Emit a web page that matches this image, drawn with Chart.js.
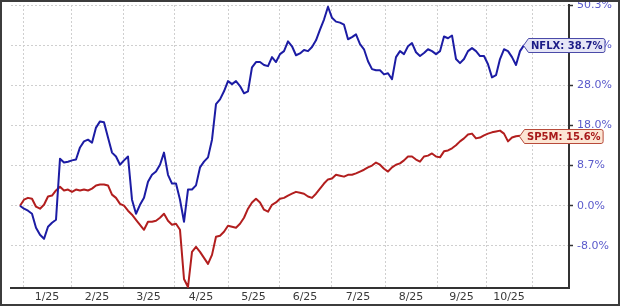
<!DOCTYPE html>
<html><head><meta charset="utf-8">
<script src="https://cdn.jsdelivr.net/npm/chart.js@4.4.0/dist/chart.umd.min.js"></script>
<style>html,body{margin:0;padding:0;background:#fff;}canvas{display:block;}</style>
</head><body>
<canvas id="c" width="620" height="306"></canvas>
<script>
// ---- data (cumulative % change, sampled at regular intervals from late Dec 2024) ----
const nflxPct = [0.0,-0.6,-1.0,-1.6,-4.4,-5.8,-6.6,-4.2,-3.4,-2.8,
  10.3,9.4,9.6,9.9,10.1,12.9,14.3,14.7,14.0,17.5,
  19.0,18.8,15.2,11.7,10.8,8.9,9.9,10.8,1.3,-1.6,
  0.2,1.7,5.2,6.7,7.4,8.9,11.7,6.7,4.8,4.8,
  1.3,-3.2,3.5,3.5,4.4,8.3,9.6,10.6,14.7,23.3,
  24.5,26.5,29.1,28.3,29.1,27.8,26.0,26.5,32.8,34.2,
  34.2,33.4,33.1,35.5,34.2,36.3,37.1,39.8,38.4,36.0,
  36.5,37.4,37.1,38.2,40.1,43.2,46.1,49.8,46.6,45.5,
  45.2,44.6,40.4,41.0,41.8,39.0,37.6,34.4,32.3,32.0,
  32.0,30.9,31.2,29.6,35.5,37.1,36.3,38.4,39.3,36.8,
  35.8,36.6,37.6,37.1,36.3,37.1,41.2,40.7,41.5,35.0,
  33.9,35.0,37.1,37.9,37.1,35.8,35.8,33.6,30.1,30.7,
  35.0,37.6,37.1,35.5,33.4,37.1,38.7];
const sp5mPct = [0.0,1.3,1.7,1.5,-0.2,-0.6,0.2,2.0,2.2,3.3,
  4.1,3.3,3.5,3.0,3.5,3.3,3.5,3.3,3.7,4.4,
  4.6,4.6,4.4,2.4,1.7,0.4,0.0,-1.0,-1.8,-2.8,
  -3.8,-4.8,-3.2,-3.2,-3.0,-2.4,-1.6,-3.0,-3.8,-3.6,
  -4.8,-14.6,-16.2,-9.2,-8.2,-9.2,-10.4,-11.6,-9.8,-6.2,
  -6.0,-5.2,-4.0,-4.2,-4.4,-3.6,-2.4,-0.6,0.7,1.5,
  0.7,-0.8,-1.2,0.2,0.7,1.5,1.7,2.2,2.6,3.0,
  2.8,2.6,2.0,1.7,2.6,3.7,4.8,5.7,5.9,6.7,
  6.5,6.3,6.7,6.7,7.0,7.4,7.8,8.3,8.7,9.4,
  8.9,8.0,7.4,8.3,8.9,9.2,9.9,10.8,10.8,10.1,
  9.6,10.8,11.0,11.5,10.8,10.6,12.0,12.2,12.7,13.4,
  14.3,15.0,15.9,16.1,15.0,15.2,15.7,16.1,16.4,16.6,
  16.8,16.1,14.3,15.2,15.5,15.6];
const seriesNames = ['NFLX', 'SP5M'];
// month boundaries (in sample units) and month labels
const monthStarts = [0.75, 12.75, 25.75, 38.5, 52, 64.75, 77.75, 91.25, 104.25, 116.5, 128];
const monthLabels = ['1/25','2/25','3/25','4/25','5/25','6/25','7/25','8/25','9/25','10/25'];
const yTickValues = [-8.0, 0.0, 8.7, 18.0, 28.0, 38.7, 50.3];
const yRange = [-16.4, 50.3];
const xRange = [-2.25, 137.25];

// ---- axis whose tick labels are equally spaced (piecewise-linear between ticks) ----
function tickPos(v) {
  const t = yTickValues; let k = 0;
  while (k < t.length - 2 && v > t[k + 1]) k++;
  return k + (v - t[k]) / (t[k + 1] - t[k]);
}
function tickVal(p) {
  const t = yTickValues;
  const k = Math.max(0, Math.min(t.length - 2, Math.floor(p)));
  return t[k] + (p - k) * (t[k + 1] - t[k]);
}
class StepScale extends Chart.LinearScale {
  determineDataLimits() { this.min = tickPos(yRange[0]); this.max = tickPos(yRange[1]); }
  buildTicks() { return yTickValues.map(v => ({ value: v })); }
  getPixelForValue(v) { return v == null ? NaN : super.getPixelForValue(tickPos(v)); }
  getValueForPixel(p) { return tickVal(super.getValueForPixel(p)); }
}
StepScale.id = 'stepped';
StepScale.defaults = Chart.LinearScale.defaults;
Chart.register(StepScale);

const mids = monthLabels.map((_, i) => (monthStarts[i] + monthStarts[i + 1]) / 2);
const isStart = v => monthStarts.some(m => Math.abs(m - v) < 1e-6);

const colors = { NFLX: '#1c1ca4', SP5M: '#b21e1e' };
const tagStyle = {
  NFLX: { fill: '#e6e6f6', stroke: '#4a4aa8', text: '#1c1c86' },
  SP5M: { fill: '#fce6d4', stroke: '#b84a3a', text: '#a81a1a' }
};

const framePlugin = {
  id: 'frame',
  beforeDraw(chart) {
    const c = chart.ctx; c.save(); c.fillStyle = '#fff'; c.fillRect(0, 0, chart.width, chart.height); c.restore();
  },
  afterDraw(chart) {
    const c = chart.ctx;
    c.save();
    chart.data.datasets.forEach((ds, di) => {
      const meta = chart.getDatasetMeta(di);
      const pt = meta.data[meta.data.length - 1];
      const name = seriesNames[di];
      const st = tagStyle[name];
      const txt = name + ': ' + ds.data[ds.data.length - 1].y.toFixed(1) + '%';
      c.font = 'bold 10px "DejaVu Sans"';
      const w = c.measureText(txt).width + 5;
      const x = Math.round(pt.x) - 0.5, y = Math.round(pt.y) + 0.5, h = 7, a = 5, r = 2;
      c.beginPath();
      c.moveTo(x, y);
      c.lineTo(x + a, y - h);
      c.lineTo(x + a + w - r, y - h);
      c.quadraticCurveTo(x + a + w, y - h, x + a + w, y - h + r);
      c.lineTo(x + a + w, y + h - r);
      c.quadraticCurveTo(x + a + w, y + h, x + a + w - r, y + h);
      c.lineTo(x + a, y + h);
      c.closePath();
      c.fillStyle = st.fill; c.fill();
      c.lineWidth = 1; c.strokeStyle = st.stroke; c.stroke();
      c.fillStyle = st.text; c.textBaseline = 'middle'; c.textAlign = 'left';
      c.fillText(txt, x + a + 2.5, y + 0.5);
    });
    c.lineWidth = 2; c.strokeStyle = '#3c3c3c';
    c.strokeRect(1, 1, chart.width - 2, chart.height - 2);
    c.restore();
  }
};

new Chart(document.getElementById('c'), {
  type: 'line',
  data: {
    datasets: [
      { label: seriesNames[0], data: nflxPct.map((v, i) => ({ x: i, y: v })), borderColor: colors.NFLX, borderWidth: 2, pointRadius: 0, tension: 0, borderJoinStyle: 'round' },
      { label: seriesNames[1], data: sp5mPct.map((v, i) => ({ x: i, y: v })), borderColor: colors.SP5M, borderWidth: 2, pointRadius: 0, tension: 0, borderJoinStyle: 'round' }
    ]
  },
  options: {
    responsive: false, animation: false, devicePixelRatio: 1,
    layout: { padding: { left: 11, top: 5, right: 0, bottom: 0 } },
    plugins: { legend: { display: false }, tooltip: { enabled: false } },
    scales: {
      x: {
        type: 'linear', min: xRange[0], max: xRange[1], bounds: 'data',
        afterBuildTicks: s => { s.ticks = monthStarts.concat(mids).sort((a, b) => a - b).map(v => ({ value: v })); },
        afterFit: s => { s.height = 18; s.paddingLeft = 0; s.paddingRight = 0; },
        grid: { drawTicks: false, lineWidth: 1, color: ctx => (ctx.tick && isStart(ctx.tick.value)) ? '#cfcfcf' : 'rgba(0,0,0,0)' },
        border: { display: true, color: '#333', width: 2, dash: [2, 2] },
        ticks: {
          autoSkip: false, maxRotation: 0, padding: 3, color: '#3a3a3a',
          font: { family: 'DejaVu Sans', size: 11 },
          callback: v => { const i = mids.findIndex(m => Math.abs(m - v) < 1e-6); return i >= 0 ? monthLabels[i] : ''; }
        }
      },
      y: {
        type: 'stepped', position: 'right',
        afterFit: s => { s.width = 51; s.paddingTop = 0; s.paddingBottom = 0; },
        grid: { color: '#cfcfcf', lineWidth: 1, drawTicks: true, tickLength: 4, tickColor: '#333', tickWidth: 1.5, tickBorderDash: [] },
        border: { display: true, color: '#333', width: 2, dash: [2, 2] },
        ticks: {
          autoSkip: false, padding: 4, color: '#5a5acb',
          font: { family: 'DejaVu Sans', size: 11 },
          callback: v => v.toFixed(1) + '%'
        }
      }
    }
  },
  plugins: [framePlugin]
});
</script>
</body></html>
